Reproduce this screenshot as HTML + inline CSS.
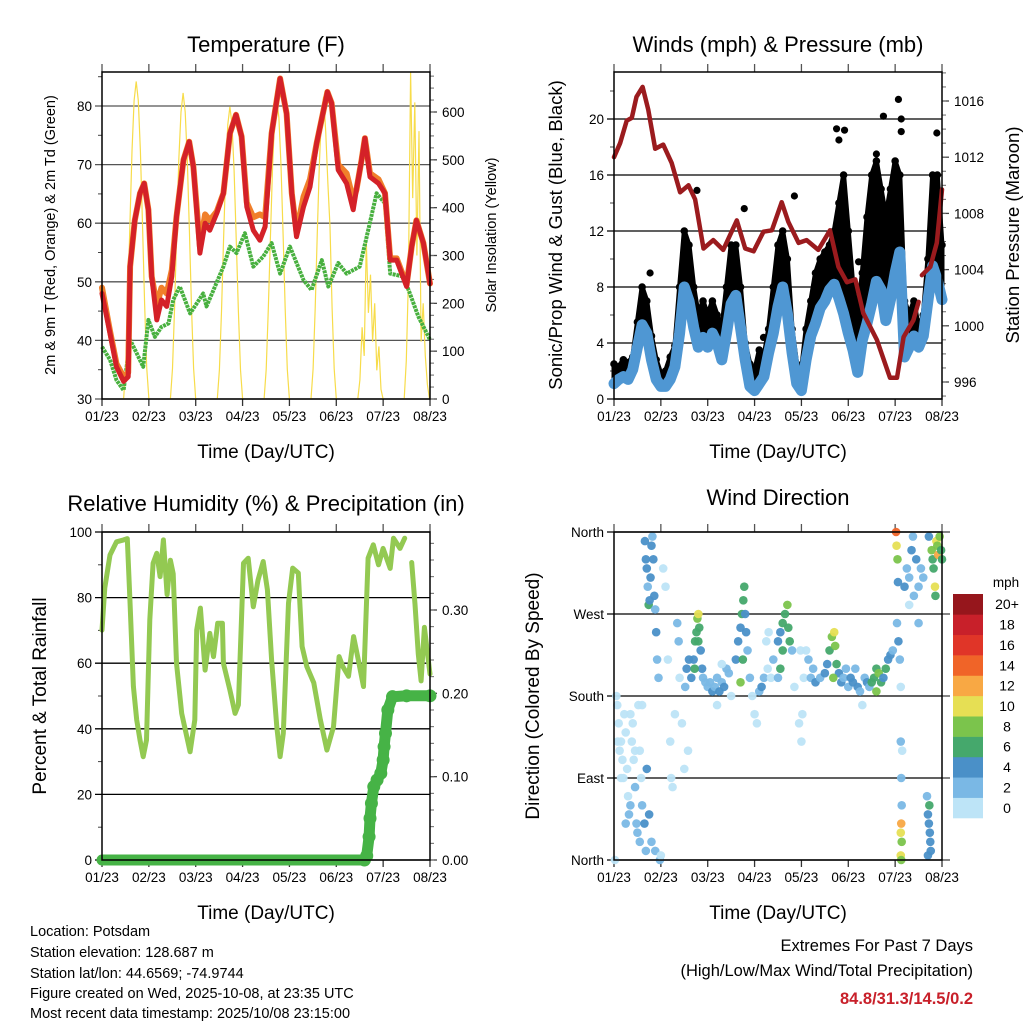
<!DOCTYPE html>
<html><head><meta charset="utf-8"><style>
html,body{margin:0;padding:0;background:#fff;}
svg{display:block;font-family:"Liberation Sans",Arial,sans-serif;}
</style></head><body>
<svg id="chart" width="1024" height="1024" viewBox="0 0 1024 1024" xmlns="http://www.w3.org/2000/svg">
<rect x="0" y="0" width="1024" height="1024" fill="#fff"/>
<g font-size="22" text-anchor="middle" fill="#000">
<text x="266" y="52">Temperature (F)</text>
<text x="778" y="52">Winds (mph) &amp; Pressure (mb)</text>
<text x="266" y="511">Relative Humidity (%) &amp; Precipitation (in)</text>
<text x="778" y="505">Wind Direction</text>
</g>
<g font-size="19" text-anchor="middle">
<text x="266" y="458">Time (Day/UTC)</text>
<text x="778" y="458">Time (Day/UTC)</text>
<text x="266" y="919">Time (Day/UTC)</text>
<text x="778" y="919">Time (Day/UTC)</text>
</g>
<g text-anchor="middle">
<text font-size="14.5" transform="translate(55,235) rotate(-90)">2m &amp; 9m T (Red, Orange) &amp; 2m Td (Green)</text>
<text font-size="14.5" transform="translate(496,235) rotate(-90)">Solar Insolation (Yellow)</text>
<text font-size="18.5" transform="translate(562,235) rotate(-90)">Sonic/Prop Wind &amp; Gust (Blue, Black)</text>
<text font-size="18.5" transform="translate(1019,235) rotate(-90)">Station Pressure (Maroon)</text>
<text font-size="19" transform="translate(46,696) rotate(-90)">Percent &amp; Total Rainfall</text>
<text font-size="19" transform="translate(539,696) rotate(-90)">Direction (Colored By Speed)</text>
</g>
<g font-size="14.5" fill="#000">
<text x="30" y="936">Location: Potsdam</text>
<text x="30" y="957">Station elevation: 128.687 m</text>
<text x="30" y="978">Station lat/lon: 44.6569; -74.9744</text>
<text x="30" y="998">Figure created on Wed, 2025-10-08, at 23:35 UTC</text>
<text x="30" y="1018">Most recent data timestamp: 2025/10/08 23:15:00</text>
</g>
<g font-size="16.5" text-anchor="end">
<text x="973" y="951">Extremes For Past 7 Days</text>
<text x="973" y="976">(High/Low/Max Wind/Total Precipitation)</text>
<text x="973" y="1004" fill="#c8202a" font-weight="bold">84.8/31.3/14.5/0.2</text>
</g>
<g id="layer"></g>
</svg>
<script>
// ---------- DATA ----------
const dayLabels = ["01/23","02/23","03/23","04/23","05/23","06/23","07/23","08/23"];
const tempTicks = [30,40,50,60,70,80];
const solarTicks = [0,100,200,300,400,500,600];
const windTicks = [0,4,8,12,16,20];
const presTicks = [996,1000,1004,1008,1012,1016];
const rhTicks = [0,20,40,60,80,100];
const precipTicks = [0.00,0.10,0.20,0.30];
const dirTicks = [0,90,180,270,360];
const dirTickLabels = ["North","East","South","West","North"];
const speedBins = ["0","2","4","6","8","10","12","14","16","18","20+"];

const tDays = [0,.17,.31,.46,.56,.6,.7,.81,.9,.99,1.06,1.17,1.27,1.38,1.49,1.59,1.74,1.86,1.95,2.09,2.2,2.3,2.45,2.59,2.73,2.86,2.98,3.09,3.23,3.37,3.48,3.62,3.8,3.94,4.05,4.15,4.3,4.44,4.58,4.81,4.9,5.04,5.22,5.36,5.43,5.54,5.61,5.72,5.9,6.04,6.15,6.29,6.5,6.61,6.71,6.86,7.0];
const tRed = [48,41.2,35.5,33,33.8,52.6,60.5,65.1,66.8,62.3,50.9,43.5,46.9,45.8,50.9,61.1,70.8,73.9,69.6,54.9,60,58.8,61.7,65.1,75.3,78.5,74.8,62.8,58.8,57.1,59.4,75.3,84.7,78.7,65.1,57.7,62.8,66.2,73.6,82.4,80.5,69.1,66.8,62.3,65.7,70.8,74.5,67.9,66.8,65.1,53.7,53.7,49.2,56,60.5,56.6,49.7];
const tOrange = [49,41.6,36,33.8,34.5,52.6,60.5,65.1,66.8,62.3,50.9,46,49,48,52,61.1,70.8,73.9,69.6,56,61.5,60.5,62,65.1,75.3,78.5,74.8,63.5,61,61.5,61,75.3,84.7,78.7,65.1,58.5,64.5,67.5,73.6,82.4,80.5,70,68.5,64,65.7,70.8,74.5,68.5,67.5,65.1,54,54,49.5,56,60.5,56.6,49.7];
const tdDays = [0,.17,.31,.46,.6,.74,.88,.99,1.13,1.27,1.42,1.52,1.66,1.88,2.02,2.16,2.23,2.38,2.59,2.73,2.87,3.05,3.23,3.44,3.62,3.8,4.01,4.3,4.47,4.69,4.83,5.04,5.22,5.5,5.65,5.86,6.04,6.15,6.43,6.57,6.75,7.0];
const tdVals = [38.9,36.7,33.2,31.5,40.1,37.8,35.5,43.5,40.6,42.3,42.9,46.9,49.2,44.6,46.3,48,45.8,48.6,52.6,56,54.9,58.3,52.6,54.3,56.6,51.4,56,50.3,48.6,53.7,49.2,53.2,51.4,52.6,57.7,65.1,63.4,51.4,50.9,48,44.1,40.1];
const solarStart = [0.46,1.46,2.46,3.46,4.46,5.46,6.45];
const solarVals = [
 [0,66,200,365,518,624,664,624,518,365,200,66,0],
 [0,64,192,352,500,600,640,600,500,352,192,64,0],
 [0,61,183,336,477,574,611,574,477,336,183,61,0],
 [0,62,188,344,488,588,625,588,488,344,188,62,0],
 [0,63,190,348,493,594,632,560,450,360,190,63,0],
 [0,40,150,90,330,180,260,120,200,60,110,20,0],
 [0,80,250,684,420,620,300,560,120,200,90,30,0]];

const windDays = [0,.1,.2,.3,.4,.5,.6,.7,.8,.9,1,1.1,1.2,1.3,1.4,1.5,1.6,1.7,1.8,1.9,2,2.1,2.2,2.3,2.4,2.5,2.6,2.7,2.8,2.9,3,3.1,3.2,3.3,3.4,3.5,3.6,3.7,3.8,3.9,4,4.1,4.2,4.3,4.4,4.5,4.6,4.7,4.8,4.9,5,5.1,5.2,5.3,5.4,5.5,5.6,5.7,5.8,5.9,6,6.1,6.2,6.3,6.4,6.5,6.6,6.7,6.8,6.9,7];
const windVals = [1.1,1.4,1.6,1.4,2.1,3.7,5.3,4.7,2.8,1.4,0.9,0.9,1.4,2.3,4.7,8.0,7.0,5.1,3.7,4.4,3.7,4.7,4.0,2.8,4.7,6.8,7.4,5.1,2.8,0.9,0.6,1.1,1.6,3.3,4.7,6.6,8.0,6.1,3.3,1.1,0.6,2.8,4.5,5.4,6.5,7.0,7.8,8.2,7.2,6.1,4.7,3.5,1.9,4.2,5.4,6.8,8.4,7.8,5.6,7.1,9.0,10.5,3.0,3.7,4.5,3.7,4.5,7.0,9.5,8.5,7.1];
const gustVals = [2.5,2.3,2.8,2.6,3,5.5,8,7,4.5,2.8,1.8,2,3,3.8,8,12,11,8,6,7,6,7,6,5,8,11,11,8,4,2.5,2,3.5,3,5,8,11,12,10,5,2.5,2,5,7,9,10,10.5,11,12,14,16,12,8,6,9,13,16,17,15,13,15,17,16,7,6,7,5,6,10,16,16,11];
const gustOutDays = [4.75,4.8,4.92,5.75,6.07,6.13,6.13,6.89,5.6,1.77,2.78,3.85,0.77,3.19,5.22];
const gustOutVals = [19.3,18.5,19.2,20.2,21.4,20.0,19.1,19.0,17.5,14.9,13.6,14.5,9.0,4.4,9.8];
const presDays = [0,.13,.27,.38,.48,.61,.73,.88,1.05,1.23,1.41,1.59,1.73,1.91,2.12,2.33,2.62,2.8,2.98,3.19,3.37,3.58,3.72,3.94,4.11,4.36,4.61,4.79,4.97,5.15,5.32,5.61,5.89,6.04,6.18,6.39,6.5,6.53,6.57,6.75,6.89,7.0];
const presVals = [1012.0,1013.0,1014.6,1014.8,1016.3,1017.0,1015.4,1012.6,1012.9,1011.6,1009.5,1010.0,1009.0,1005.5,1006.1,1005.4,1007.5,1005.5,1005.3,1006.7,1006.8,1008.8,1007.4,1005.9,1006.1,1005.4,1006.8,1004.2,1003.1,1003.3,1000.9,999.0,996.3,996.3,999.2,1000.4,1001.7,null,1003.6,1004.2,1005.9,1009.7];

const rhDays = [0,.06,.17,.31,.46,.54,.6,.67,.74,.81,.88,.95,1.02,1.09,1.17,1.24,1.31,1.39,1.46,1.52,1.59,1.7,1.81,1.88,1.98,2.02,2.1,2.2,2.3,2.38,2.47,2.57,2.59,2.73,2.84,2.91,3.02,3.12,3.23,3.33,3.44,3.53,3.62,3.73,3.8,3.87,3.98,4.07,4.19,4.27,4.37,4.52,4.66,4.8,4.94,5.06,5.14,5.26,5.37,5.47,5.58,5.68,5.79,5.9,6.0,6.15,6.22,6.36,6.46,6.56,6.61,6.68,6.75,6.81,6.88,7.0];
const rhVals = [70.1,83,93,97,97.6,98,78,52.9,42.7,36.6,31.5,36.6,73.2,90.5,93.5,86.4,97.6,80.9,91.4,87.3,60,44.7,37.6,33,42.7,70.1,76.8,57.9,69.1,62,72.2,72.2,60,51.8,44.7,47.3,90.5,92,77.2,85.3,91,82.4,61,40.6,31.5,38.6,78.3,89,87.5,65.1,59,54,42.7,33.5,40.6,62,59,56,68.1,61,52.9,92,96.1,90,95,88.9,98.1,95,98.1,null,90.7,78,62.7,54.6,70.9,56.7,64.9];
const precipDays = [0,1,2,3,4,5,5.6,5.65,5.7,5.72,5.75,5.8,5.87,5.95,6.0,6.02,6.05,6.1,6.2,6.5,7.0];
const precipVals = [0,0,0,0,0,0,0,0.005,0.028,0.05,0.068,0.088,0.096,0.104,0.12,0.136,0.152,0.18,0.196,0.197,0.197];

const dirDays = [0.02,0.05,0.07,0.1,0.12,0.15,0.18,0.2,0.22,0.25,0.28,0.3,0.32,0.35,0.38,0.4,0.42,0.45,0.48,0.5,0.52,0.55,0.58,0.6,0.08,0.15,0.25,0.35,0.45,0.55,0.6,0.65,0.68,
0.66,0.68,0.7,0.72,0.74,0.76,0.78,0.8,0.82,0.84,0.86,0.88,0.9,0.92,0.95,0.98,0.88,0.8,0.75,0.7,1.0,
1.05,1.1,1.15,1.2,1.22,1.25,1.3,1.35,1.38,1.4,1.45,1.5,1.52,1.55,1.58,1.6,
1.65,1.7,1.73,1.76,1.78,1.8,1.82,1.85,1.88,1.9,1.95,1.72,1.8,
2.0,2.05,2.1,2.15,2.2,2.25,2.3,2.35,2.4,2.45,2.5,2.2,2.3,
2.6,2.65,2.7,2.73,2.76,2.78,2.8,2.82,2.85,2.9,2.75,2.7,
2.95,3.0,3.05,3.1,3.15,3.2,3.25,3.3,3.28,3.35,
3.4,3.5,3.55,3.6,3.65,3.7,3.72,3.75,3.6,3.55,3.5,3.8,3.85,
3.95,4.0,4.02,4.05,4.1,4.15,4.2,4.25,4.3,3.98,
4.4,4.5,4.55,4.6,4.65,4.7,4.72,4.75,4.8,4.85,4.9,4.95,4.68,
5.0,5.05,5.1,5.15,5.2,5.25,5.3,5.35,5.4,5.45,
5.5,5.55,5.6,5.65,5.7,5.75,5.8,5.85,5.9,5.95,5.6,
6.02,6.03,6.05,6.06,6.04,6.07,6.1,6.12,6.12,6.13,6.14,6.13,6.12,6.14,6.12,6.13,6.15,
6.2,6.25,6.3,6.35,6.38,6.4,6.45,6.5,6.55,6.6,6.3,6.5,
6.68,6.7,6.72,6.74,6.75,6.76,6.73,6.7,
6.72,6.78,6.8,6.82,6.85,6.88,6.9,6.92,6.95,6.98,7.0,6.86];
const dirDeg = [0,180,170,150,120,130,110,90,160,140,100,70,50,60,130,150,110,80,40,30,170,120,90,170,130,90,40,160,120,20,60,40,10,
350,330,320,300,280,285,310,345,355,330,290,275,250,220,200,0,10,20,50,100,5,
320,300,220,130,90,80,160,260,240,200,150,100,190,210,120,220,
200,220,240,250,265,270,255,230,210,200,195,210,240,
190,195,185,190,200,185,195,190,210,205,180,170,215,
220,240,255,270,285,300,270,250,230,200,220,195,
180,160,150,185,190,200,240,250,210,200,
220,240,250,260,270,280,255,240,230,210,200,230,190,
150,130,160,200,230,220,200,210,195,230,
200,205,215,230,245,250,235,215,205,195,200,210,200,
190,200,195,210,190,185,170,200,195,190,
195,200,210,205,195,200,210,220,225,230,185,
360,345,330,305,260,240,220,190,130,90,60,40,30,20,5,0,120,
300,320,310,340,355,290,330,300,320,310,280,260,
70,50,40,30,20,10,60,5,
355,340,330,320,300,350,345,335,355,340,330,290];
const dirSpd = [0.5,0.5,1,0.5,1,0.5,0.5,1,0.5,0.5,1,1.5,2,3,0.5,0.5,1,2,3,2,0.5,1,0.5,1,1,1,2,0.5,1,2,3,4,3,
4,5,4,3,6,5,4,4,3,4,4,3,4,3,2,3,2,2,4,4,1,
1,0.5,0.5,1,1,0.5,1,2,2,1,0.5,0.5,3,4,1,4,
4,5,6,7,8,10,7,5,4,3,3,7,6,
3,2,4,3,2,4,2,4,3,2,1,0.5,1,
4,4,5,6,7,6,4,4,3,2,6,8,
1,0.5,0.5,3,4,2,1,1,0.5,1,
2,4,5,6,7,8,6,6,6,6,2,3,1,
0.5,1,0.5,1,1,2,3,2,4,1,
3,5,5,6,8,10,8,6,5,4,3,3,8,
3,4,4,3,4,2,1,3,4,2,
6,7,6,8,7,5,6,4,4,3,8,
14,10,8,4,3,4,2,1,2,2,3,12,10,8,10,8,1,
4,3,3,4,2,2,5,3,3,2,1,2,
2,4,4,5,4,4,6,4,
4,8,6,7,10,10,8,12,9,7,6,7];
const speedColors = ["#bde4f7","#7ab8e5","#4a90c8","#45a86c","#7bc44c","#e6df54","#f8a844","#f06428","#e03528","#c8202a","#96161c"];

// ---------- HELPERS ----------
const NS = "http://www.w3.org/2000/svg";
const layer = document.getElementById("layer");
function mk(tag, attrs, parent) {
  const e = document.createElementNS(NS, tag);
  for (const k in attrs) e.setAttribute(k, attrs[k]);
  (parent || layer).appendChild(e);
  return e;
}
function lin(d0, d1, r0, r1) { return v => r0 + (v - d0) * (r1 - r0) / (d1 - d0); }
function pathFrom(xs, ys, fx, fy) {
  let d = "", pen = false;
  for (let i = 0; i < xs.length; i++) {
    if (ys[i] === null) { pen = false; continue; }
    d += (pen ? "L" : "M") + fx(xs[i]).toFixed(1) + "," + fy(ys[i]).toFixed(1);
    pen = true;
  }
  return d;
}

const panels = {
  temp: {x0:102, x1:430, y0:72, y1:399},
  wind: {x0:614, x1:942, y0:72, y1:399},
  rh:   {x0:102, x1:430, y0:532, y1:860},
  dir:  {x0:614, x1:942, y0:532, y1:860}
};

function frame(p, name, yl, ylTicks, ylFmt, yr, yrTicks, yrFmt, gridColor, minorL, minorR) {
  const g = mk("g", {});
  
  
  const fx = lin(0, 7, p.x0, p.x1);
  ylTicks.forEach(v => {
    const y = yl(v);
    const gl = mk("line", {x1:p.x0 - 7, x2:p.x1, y1:y, y2:y, stroke:gridColor, "stroke-width":1.3}, g);
    
    
    const t = mk("text", {x:p.x0 - 10, y:y + 5, "font-size":13.5, "text-anchor":"end"}, g);
    t.textContent = ylFmt(v);
    
    
  });
  if (minorL) minorL.forEach(v => mk("line", {x1:p.x0 - 4, x2:p.x0, y1:yl(v), y2:yl(v), stroke:"#444", "stroke-width":1}, g));
  if (yr) {
    yrTicks.forEach(v => {
      const y = yr(v);
      mk("line", {x1:p.x1, x2:p.x1 + 7, y1:y, y2:y, stroke:"#444", "stroke-width":1.3}, g);
      const t = mk("text", {x:p.x1 + 12, y:y + 5, "font-size":13.5, "text-anchor":"start"}, g);
      t.textContent = yrFmt(v);
      
      
    });
    if (minorR) minorR.forEach(v => mk("line", {x1:p.x1, x2:p.x1 + 4, y1:yr(v), y2:yr(v), stroke:"#666", "stroke-width":1}, g));
  }
  dayLabels.forEach((lab, i) => {
    const x = fx(i);
    mk("line", {x1:x, x2:x, y1:p.y1, y2:p.y1 + 7, stroke:"#333", "stroke-width":1.3}, g);
    mk("line", {x1:x, x2:x, y1:p.y0, y2:p.y0 - 8, stroke:"#555", "stroke-width":1.3}, g);
    const t = mk("text", {x:x, y:p.y1 + 22, "font-size":13.5, "text-anchor":"middle"}, g);
    t.textContent = lab;
    
    
  });
  return fx;
}
function border(p, name) {
  const r = mk("rect", {x:p.x0, y:p.y0, width:p.x1 - p.x0, height:p.y1 - p.y0, fill:"none", stroke:"#000", "stroke-width":1.5});
  
  
}
function range(a, b, s) { const o = []; for (let v = a; v <= b + 1e-9; v += s) o.push(+v.toFixed(4)); return o; }

// ---------- PANEL 1: TEMPERATURE ----------
{
  const p = panels.temp;
  const fy = lin(30, 80, 399, 106);
  const fs = lin(0, 600, 399, 112);
  const fx = frame(p, "temp", fy, tempTicks, v => v, fs, solarTicks, v => v, "#555", range(35, 85, 10), range(0, 680, 25));
  const sol = mk("g", {});
  
  
  solarVals.forEach((vals, d) => {
    const xs = vals.map((v, k) => solarStart[d] + k * 0.045);
    const pl = mk("path", {d:pathFrom(xs, vals, fx, fs), fill:"none", stroke:"#f7dc4a", "stroke-width":1.2}, sol);
    
    
  });
  const td = mk("path", {d:pathFrom(tdDays, tdVals, fx, fy), fill:"none", stroke:"#48b03f", "stroke-width":4, "stroke-dasharray":"3 0.8", "stroke-linejoin":"round"});
  
  
  const to = mk("path", {d:pathFrom(tDays, tOrange, fx, fy), fill:"none", stroke:"#f07f2a", "stroke-width":6, "stroke-linejoin":"round", "stroke-linecap":"round"});
  
  
  const tr = mk("path", {d:pathFrom(tDays, tRed, fx, fy), fill:"none", stroke:"#d42128", "stroke-width":5, "stroke-linejoin":"round", "stroke-linecap":"round"});
  
  
  border(p, "temp");
}

// ---------- PANEL 2: WINDS ----------
{
  const p = panels.wind;
  const fy = lin(0, 20, 399, 119);
  const fp = lin(996, 1016, 382, 101);
  const fx = frame(p, "wind", fy, windTicks, v => v, fp, presTicks, v => v, "#000", range(2, 22, 4), range(995, 1018, 1));
  let d = "M" + fx(windDays[0]) + "," + fy(windVals[0]);
  for (let i = 0; i < windDays.length; i++) d += "L" + fx(windDays[i]).toFixed(1) + "," + fy(gustVals[i]).toFixed(1);
  for (let i = windDays.length - 1; i >= 0; i--) d += "L" + fx(windDays[i]).toFixed(1) + "," + fy(windVals[i]).toFixed(1);
  const cloud = mk("path", {d:d + "Z", fill:"#000", stroke:"#000", "stroke-width":5, "stroke-linejoin":"round"});
  
  
  windDays.forEach((t, i) => {
    const c = mk("circle", {cx:fx(t), cy:fy(gustVals[i]), r:3.8, fill:"#000"});
    
    
  });
  gustOutDays.forEach((t, i) => {
    const c = mk("circle", {cx:fx(t), cy:fy(gustOutVals[i]), r:3.6, fill:"#000"});
    
    
  });
  const wl = mk("path", {d:pathFrom(windDays, windVals, fx, fy), fill:"none", stroke:"#4f97d3", "stroke-width":11, "stroke-linejoin":"round", "stroke-linecap":"round"});
  
  
  const pl = mk("path", {d:pathFrom(presDays, presVals, fx, fp), fill:"none", stroke:"#9b1b1e", "stroke-width":4.5, "stroke-linejoin":"round", "stroke-linecap":"round"});
  
  
  border(p, "wind");
}

// ---------- PANEL 3: RH & PRECIP ----------
{
  const p = panels.rh;
  const fy = lin(0, 100, 860, 532);
  const fr = lin(0, 0.3, 860, 610);
  const fx = frame(p, "rh", fy, rhTicks, v => v, fr, precipTicks, v => v.toFixed(2), "#000", range(10, 90, 20), range(0, 0.39, 0.02));
  const rl = mk("path", {d:pathFrom(rhDays, rhVals, fx, fy), fill:"none", stroke:"#93c952", "stroke-width":5, "stroke-linejoin":"round", "stroke-linecap":"round"});
  
  
  const pr = mk("path", {d:pathFrom(precipDays, precipVals, fx, fr), fill:"none", stroke:"#46b346", "stroke-width":11, "stroke-linejoin":"round", "stroke-linecap":"round"});
  
  
  precipDays.forEach((t, i) => {
    if (t < 5.6) return;
    const c = mk("circle", {cx:fx(t), cy:fr(precipVals[i]), r:6.5, fill:"#46b346"});
    
    
  });
  border(p, "rh");
}

// ---------- PANEL 4: WIND DIRECTION ----------
{
  const p = panels.dir;
  const fy = lin(0, 360, 860, 532);
  const fx = frame(p, "dir", fy, dirTicks, v => dirTickLabels[dirTicks.indexOf(v)], null, null, null, "#000");
  dirTicks.forEach(v => mk("line", {x1:p.x1, x2:p.x1 + 8, y1:fy(v), y2:fy(v), stroke:"#444", "stroke-width":1.3}));
  dirDays.forEach((t, i) => {
    const bin = Math.min(10, Math.floor(dirSpd[i] / 2));
    const c = mk("circle", {cx:fx(t), cy:fy(dirDeg[i]), r:4.3, fill:speedColors[bin], "fill-opacity":0.95});
    
    
  });
  border(p, "dir");
  const cb = mk("g", {});
  
  
  const t = mk("text", {x:1006, y:587, "font-size":13.5, "text-anchor":"middle"}, cb);
  t.textContent = "mph";
  
  
  const h = (818 - 594) / speedBins.length;
  speedBins.forEach((lab, i) => {
    const y = 594 + (speedBins.length - 1 - i) * h;
    const r = mk("rect", {x:953, y:y, width:30, height:h + 0.3, fill:speedColors[i]}, cb);
    
    
    const tl = mk("text", {x:1007, y:y + h / 2 + 5, "font-size":14, "text-anchor":"middle"}, cb);
    tl.textContent = lab;
    
    
  });
}
</script>
</body></html>
